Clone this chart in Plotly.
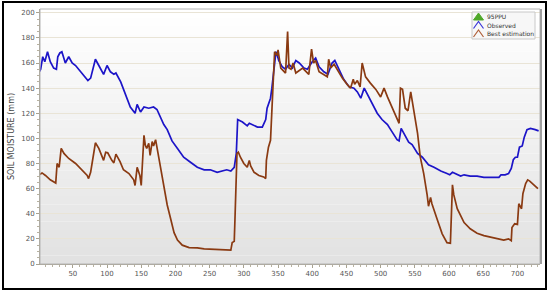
import plotly.graph_objects as go

# observed soil moisture (mm) vs day
obs_x = [1, 3, 6, 9, 13, 17, 22, 26, 28, 31,
         34, 39, 44, 49, 54, 61, 68, 72, 76, 80,
         83, 88, 95, 100, 105, 110, 113, 120, 127, 134,
         141, 144, 149, 154, 161, 168, 173, 183, 188, 195,
         203, 212, 222, 232, 242, 251, 261, 271, 275, 281,
         286, 289, 291, 298, 305, 308, 320, 327, 332, 334,
         339, 341, 344, 347, 349, 351, 356, 361, 366, 371,
         376, 381, 388, 393, 400, 405, 410, 417, 423, 429,
         433, 439, 446, 454, 461, 466, 471, 476, 480, 488,
         495, 502, 510, 517, 524, 527, 530, 535, 541, 546,
         554, 561, 570, 578, 588, 597, 601, 605, 609, 617,
         622, 631, 641, 651, 661, 673, 676, 682, 687, 691,
         694, 697, 700, 703, 707, 710, 714, 719, 726, 731]
obs_y = [153, 155, 165, 161, 169, 161, 156, 155, 165, 168,
         169, 160, 165, 160, 158, 153, 148, 146, 148, 156,
         163, 158, 151, 158, 153, 151, 152, 145, 135, 125,
         120, 127, 121, 125, 124, 125, 123, 111, 107, 98,
         92, 85, 81, 77, 75, 75, 73, 74, 75, 74,
         77, 88, 115, 113, 110, 112, 109, 109, 115, 124,
         132, 140, 155, 169, 166, 162, 157, 155, 159, 156,
         162, 160, 156, 155, 161, 164, 157, 153, 151, 160,
         162, 155, 147, 141, 140, 137, 132, 140, 136, 128,
         120, 115, 111, 105, 99, 98, 108, 103, 97, 95,
         88, 85, 79, 77, 74, 72, 71, 73, 72, 70,
         71, 70, 70, 69, 69, 69, 71, 71, 72, 76,
         83, 85, 85, 93, 94, 101, 107, 108, 107, 106]

# best estimation
est_x = [1, 3, 5, 10, 17, 25, 27, 30, 33, 37,
         44, 54, 63, 71, 73, 76, 79, 83, 88, 93,
         95, 98, 101, 107, 110, 113, 119, 124, 132, 139,
         141, 144, 148, 150, 154, 156, 158, 161, 163, 166,
         168, 171, 173, 178, 183, 188, 193, 198, 203, 210,
         220, 232, 242, 252, 266, 281, 283, 286, 287, 289,
         290, 292, 295, 300, 305, 308, 310, 315, 322, 329,
         332, 333, 336, 339, 341, 343, 345, 349, 350, 354,
         361, 364, 366, 369, 372, 376, 386, 395, 399, 402,
         405, 410, 417, 422, 424, 427, 432, 436, 444, 451,
         456, 460, 462, 466, 470, 473, 478, 485, 493, 500,
         505, 510, 517, 522, 527, 529, 532, 536, 540, 544,
         549, 554, 558, 563, 568, 570, 573, 575, 583, 590,
         597, 602, 605, 607, 612, 615, 622, 631, 641, 651,
         661, 670, 680, 687, 691, 692, 696, 700, 702, 706,
         708, 712, 715, 718, 724, 730]
est_y = [71, 71.5, 72.5, 70.5, 67, 64.5, 80, 77, 92, 88,
         84, 80, 75, 70.5, 68, 73, 83, 96.5, 92, 85,
         82.5, 89, 88.5, 82.5, 80.5, 87.5, 81.5, 75, 72, 67,
         62.5, 77, 70.5, 62.5, 102.5, 94.5, 92, 96, 86.5, 97.5,
         94, 99, 93, 77, 64, 47, 36, 25, 19, 15,
         13, 12.8, 12, 11.7, 11.2, 11, 17, 18, 35, 61,
         88, 89, 85, 80, 77, 82.5, 78, 73, 70.5, 69.3,
         68, 82.5, 93, 98.5, 122.5, 149, 169, 166, 170.5, 156,
         152, 185, 156, 155, 160, 152, 156, 151, 171, 160,
         162, 153, 151, 149, 163, 156, 159, 155, 148, 143,
         140, 147, 143, 146, 141, 160, 149, 144, 139, 133,
         140, 133, 124, 119, 112, 140, 139, 124, 122, 137,
         120, 104, 85, 72, 55, 46, 53, 48, 35, 24,
         17, 16.5, 63, 55, 44, 41, 33, 28, 24.5, 22.6,
         21.3, 20, 19, 20, 18.6, 29, 32, 31.5, 48, 44,
         56, 64, 67, 66, 63, 60]

x_ticks = [50, 100, 150, 200, 250, 300, 350, 400, 450, 500, 550, 600, 650, 700]
y_ticks = [0, 20, 40, 60, 80, 100, 120, 140, 160, 180, 200]

legend_names = ["95PPU", "Observed", "Best estimation"]

BLUE = "#1c14c8"
BROWN = "#8a3a12"
legend_colors = ["#4fa82a", "#3a36d8", "#b0603a"]
FONT = "DejaVu Sans"

# plot area in pixels (for placing the frame and legend box)
L, R, T, B = 40, 540, 9, 264


def px(xp, yp):
    return (xp - L) / (R - L), (B - yp) / (B - T)


fig = go.Figure()

fig.add_trace(go.Scatter(x=obs_x, y=obs_y, mode="lines", name="Observed",
                         line=dict(color=BLUE, width=1.7)))
fig.add_trace(go.Scatter(x=est_x, y=est_y, mode="lines", name="Best estimation",
                         line=dict(color=BROWN, width=1.7)))

# background gradient, white at top to light gray at bottom
shapes = []
n = 30
for i in range(n):
    c = int(255 - (255 - 226) * (1 - i / (n - 1)))
    shapes.append(dict(type="rect", xref="paper", yref="paper",
                       x0=0, x1=1, y0=i / n, y1=(i + 1) / n,
                       fillcolor=f"rgb({c},{c},{c})", line=dict(width=0),
                       layer="below"))
# plot border
shapes.append(dict(type="rect", xref="paper", yref="paper", x0=0, x1=1, y0=0, y1=1,
                   line=dict(color="#b4b4b4", width=1)))
shapes.append(dict(type="line", xref="paper", yref="paper", x0=1.002, x1=1.002, y0=0, y1=1,
                   line=dict(color="#a0a0a0", width=2)))
# outer black frame
fx0, fy1 = px(3, 2)
fx1, fy0 = px(546, 289)
shapes.append(dict(type="rect", xref="paper", yref="paper",
                   x0=fx0, x1=fx1, y0=fy0, y1=fy1, line=dict(color="black", width=2)))
# legend box
bx0, by1 = px(472, 12)
bx1, by0 = px(535, 39)
shapes.append(dict(type="rect", xref="paper", yref="paper",
                   x0=bx0, x1=bx1, y0=by0, y1=by1,
                   fillcolor="#f7f7f7", line=dict(color="#c8c8c8", width=1)))

annotations = []
rows = [16.5, 25, 33.5]
for i, (nm, col) in enumerate(zip(legend_names, legend_colors)):
    cy = rows[i]
    xa, ya = px(473.5, cy + 3.5)
    xb, yb = px(478.5, cy - 3.5)
    xc, yc = px(483.5, cy + 3.5)
    if i == 0:
        path = f"M {xa},{ya} L {xb},{yb} L {xc},{yc} Z"
        shapes.append(dict(type="path", xref="paper", yref="paper", path=path,
                           fillcolor=col, line=dict(color=col, width=1)))
    else:
        path = f"M {xa},{ya} L {xb},{yb} L {xc},{yc}"
        shapes.append(dict(type="path", xref="paper", yref="paper", path=path,
                           line=dict(color=col, width=1.2)))
    tx, ty = px(486, cy)
    annotations.append(dict(xref="paper", yref="paper", x=tx, y=ty,
                            text=nm, showarrow=False, xanchor="left", yanchor="middle",
                            borderpad=0,
                            font=dict(size=6, color="#333333", family=FONT)))

fig.update_layout(
    width=550, height=294,
    margin=dict(l=L, r=550 - R, t=T, b=294 - B),
    paper_bgcolor="white",
    plot_bgcolor="rgba(0,0,0,0)",
    font=dict(family=FONT, size=7, color="#555555"),
    showlegend=False,
    shapes=shapes,
    annotations=annotations,
    xaxis=dict(range=[2, 733], tickvals=x_ticks, showgrid=False, zeroline=False,
               showline=True, linecolor="#a8a290", linewidth=1,
               ticks="outside", ticklen=3, tickcolor="#a8a290",
               tickfont=dict(size=7, color="#555555"),
               minor=dict(dtick=10, ticks="outside", ticklen=2, tickcolor="#b8b2a0")),
    yaxis=dict(range=[0, 203], tickvals=y_ticks, showgrid=True,
               gridcolor="#e9e4d6", gridwidth=1, zeroline=False,
               showline=True, linecolor="#a8a290", linewidth=1,
               ticks="outside", ticklen=3, tickcolor="#a8a290",
               tickfont=dict(size=7, color="#555555"),
               minor=dict(dtick=5, ticks="outside", ticklen=2, tickcolor="#b8b2a0"),
               title=dict(text="SOIL MOISTURE (mm)", standoff=5,
                          font=dict(size=8, color="#444444"))),
)

# page body has a default margin; remove it so the figure sits at the corner
fig.write_html("out.html", config={"displayModeBar": False},
               post_script="document.body.style.margin='0';")
